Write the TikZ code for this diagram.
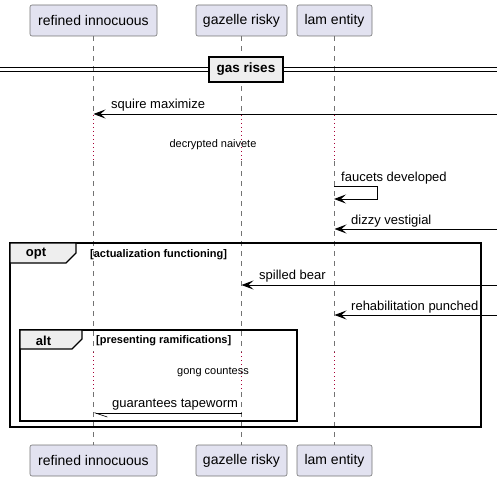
\documentclass[tikz,border=0pt]{standalone}
\usepackage{fontspec}
\setmainfont{Liberation Sans}
\usetikzlibrary{positioning, arrows.meta}
\definecolor{partfill}{HTML}{E2E2F0}
\definecolor{tabfill}{HTML}{EEEEEE}
\definecolor{delayred}{HTML}{A80036}

\begin{document}
\begin{tikzpicture}[x=1pt, y=-1pt,
    part/.style={rectangle, rounded corners=2pt, draw=black!55, line width=0.6pt,
                 fill=partfill, minimum height=31pt, inner sep=0pt,
                 font=\fontsize{14}{16}\selectfont},
    life/.style={draw=black!55, line width=0.6pt, dash pattern=on 5pt off 5pt},
    delay/.style={draw=delayred, line width=0.8pt, dash pattern=on 1pt off 3pt},
    msg/.style={-{Stealth[length=12pt, width=9pt, inset=5pt]}, line width=0.9pt},
    msgtext/.style={anchor=west, font=\fontsize{13}{15}\selectfont, inner sep=0pt},
    delaytext/.style={font=\fontsize{11}{13}\selectfont, inner sep=0pt},
    framebox/.style={draw=black, line width=1.5pt},
    fragtab/.style={draw=black, line width=1.2pt, fill=tabfill},
    fragname/.style={font=\fontsize{13}{15}\selectfont\bfseries, inner sep=0pt},
    guard/.style={anchor=west, font=\fontsize{11}{13}\selectfont\bfseries, inner sep=0pt}
]
    \useasboundingbox (0,0) rectangle (497,481);

    % === Participants ===
    \node[part, minimum width=127pt] (ritop) at (93.5, 20.5) {refined innocuous};
    \node[part, minimum width=91pt] (grtop) at (241.5, 20.5) {gazelle risky};
    \node[part, minimum width=75pt] (letop) at (334.5, 20.5) {lam entity};
    \node[part, minimum width=127pt] (ribot) at (93.5, 460.5) {refined innocuous};
    \node[part, minimum width=91pt] (grbot) at (241.5, 460.5) {gazelle risky};
    \node[part, minimum width=75pt] (lebot) at (334.5, 460.5) {lam entity};

    % === Lifelines with delays ===
    \coordinate (d1a) at (0, 115);
    \coordinate (d1b) at (0, 161);
    \coordinate (d2a) at (0, 352);
    \coordinate (d2b) at (0, 392);
    \foreach \p in {ri, gr, le} {
        \draw[life] (\p top.south) -- (\p top.south |- d1a);
        \draw[delay] (\p top.south |- d1a) -- (\p top.south |- d1b);
        \draw[life] (\p top.south |- d1b) -- (\p top.south |- d2a);
        \draw[delay] (\p top.south |- d2a) -- (\p top.south |- d2b);
        \draw[life] (\p top.south |- d2b) -- (\p bot.north);
    }

    % === Divider ===
    \draw[line width=1pt] (0, 68) -- (497, 68);
    \draw[line width=1pt] (0, 72) -- (497, 72);
    \node[draw=black, line width=1.5pt, fill=tabfill, minimum width=74pt,
          minimum height=25pt, inner sep=0pt,
          font=\fontsize{13.5}{15}\selectfont\bfseries] (div) at (246, 69.5) {gas rises};

    % === Messages ===
    \coordinate (edge1) at (497, 114);
    \draw[msg] (edge1) -- (ritop.south |- edge1);
    \node[msgtext] (m1) at (111, 105) {squire maximize};

    \node[delaytext] (dly1) at (213, 145) {decrypted naivete};

    \coordinate (self1) at (334, 186);
    \coordinate (self2) at (334, 199);
    \draw[msg] (self1) -- ++(43, 0) -- ++(0, 13) -- (self2);
    \node[msgtext] (m2) at (341, 178) {faucets developed};

    \coordinate (edge2) at (497, 229);
    \draw[msg] (edge2) -- (letop.south |- edge2);
    \node[msgtext] (m3) at (351, 221) {dizzy vestigial};

    % === opt fragment ===
    \draw[framebox] (10, 243) rectangle (481, 427);
    \draw[fragtab] (10, 243) -- (76, 243) -- (76, 253) -- (66, 263) -- (10, 263) -- cycle;
    \node[fragname] (opt) at (36, 254) {opt};
    \node[guard] (optguard) at (90, 255) {[actualization functioning]};

    \coordinate (edge3) at (497, 285);
    \draw[msg] (edge3) -- (grtop.south |- edge3);
    \node[msgtext] (m4) at (259, 276) {spilled bear};

    \coordinate (edge4) at (497, 315);
    \draw[msg] (edge4) -- (letop.south |- edge4);
    \node[msgtext] (m5) at (351, 307) {rehabilitation punched};

    % === alt fragment ===
    \draw[framebox] (20, 330) rectangle (297, 421);
    \draw[fragtab] (20, 330) -- (82, 330) -- (82, 339) -- (72, 349) -- (20, 349) -- cycle;
    \node[fragname] (alt) at (43.5, 341) {alt};
    \node[guard] (altguard) at (96, 341) {[presenting ramifications]};

    \node[delaytext] (dly2) at (213, 372) {gong countess};

    \coordinate (g413) at (0, 413);
    \draw[line width=0.9pt, -{Straight Barb[left, length=12pt, width=8pt, line width=0.6pt]}]
        (grtop.south |- g413) -- (ritop.south |- g413);
    \node[msgtext] (m6) at (112, 405) {guarantees tapeworm};

\end{tikzpicture}
\end{document}
